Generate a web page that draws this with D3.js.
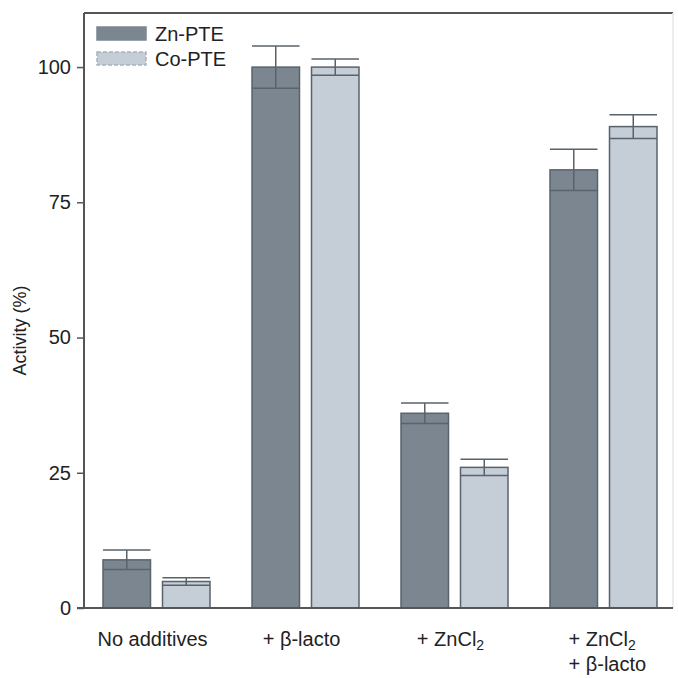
<!DOCTYPE html>
<html>
<head>
<meta charset="utf-8">
<script src="https://cdn.jsdelivr.net/npm/d3@7"></script>
<style>
  body { margin: 0; background: #fff; }
  text { font-family: "Liberation Sans", Arial, sans-serif; fill: #222; }
</style>
</head>
<body>
<div id="chart"></div>
<script>
const groups = ["No additives", "+ β-lacto", "+ ZnCl2", "+ ZnCl2 + β-lacto"];
const series = ["Zn-PTE", "Co-PTE"];
const znValues = [8.9, 100, 36, 81];
const znErrors = [1.8, 3.9, 1.9, 3.8];
const coValues = [4.9, 100, 26, 89];
const coErrors = [0.7, 1.5, 1.5, 2.2];
const yTicks = [0, 25, 50, 75, 100];

const fills = {"Zn-PTE": "#7b8690", "Co-PTE": "#c5cdd7"};
const edge = "#59636b";
const fs = 20;

const W = 678, H = 678;
const plot = {left: 84, right: 673, top: 13, bottom: 608};

const svg = d3.select("#chart").append("svg")
    .attr("width", W)
    .attr("height", H);

const data = groups.map((g, i) => ({
    group: g,
    bars: [
        {series: "Zn-PTE", value: znValues[i], err: znErrors[i]},
        {series: "Co-PTE", value: coValues[i], err: coErrors[i]}
    ]
}));

const y = d3.scaleLinear().domain([0, 110]).range([plot.bottom, plot.top]);
const x0 = d3.scaleBand().domain(groups).range([82, 678]);
const x1 = d3.scaleBand().domain(series).range([0, 107]).paddingInner(12 / 59.5).paddingOuter(0);
const groupStart = g => x0(g) + x0.bandwidth() / 2 - 53.5;

// frame
svg.append("line")
    .attr("x1", plot.left).attr("x2", plot.right)
    .attr("y1", plot.top).attr("y2", plot.top)
    .attr("stroke", "#555").attr("stroke-width", 2);
svg.append("line")
    .attr("x1", plot.right).attr("x2", plot.right)
    .attr("y1", plot.top).attr("y2", plot.bottom)
    .attr("stroke", "#e4e8ec").attr("stroke-width", 1.5);

// bars
const gs = svg.selectAll(".grp")
    .data(data)
    .enter().append("g")
    .attr("class", "grp")
    .attr("transform", d => "translate(" + groupStart(d.group) + ",0)");

const bar = gs.selectAll(".bar")
    .data(d => d.bars)
    .enter().append("g")
    .attr("class", "bar");

bar.append("rect")
    .attr("x", d => x1(d.series))
    .attr("y", d => y(d.value))
    .attr("width", x1.bandwidth())
    .attr("height", d => y(0) - y(d.value))
    .attr("fill", d => fills[d.series])
    .attr("stroke", edge)
    .attr("stroke-width", 1.5);

// error bars: line across bar at low end, stem, cap at high end
bar.append("line")
    .attr("x1", d => x1(d.series)).attr("x2", d => x1(d.series) + x1.bandwidth())
    .attr("y1", d => y(d.value - d.err)).attr("y2", d => y(d.value - d.err))
    .attr("stroke", edge).attr("stroke-width", 1.5);
bar.append("line")
    .attr("x1", d => x1(d.series) + x1.bandwidth() / 2).attr("x2", d => x1(d.series) + x1.bandwidth() / 2)
    .attr("y1", d => y(d.value - d.err)).attr("y2", d => y(d.value + d.err))
    .attr("stroke", edge).attr("stroke-width", 1.5);
bar.append("line")
    .attr("x1", d => x1(d.series)).attr("x2", d => x1(d.series) + x1.bandwidth())
    .attr("y1", d => y(d.value + d.err)).attr("y2", d => y(d.value + d.err))
    .attr("stroke", edge).attr("stroke-width", 1.5);

// y axis
const yAxis = svg.append("g")
    .attr("transform", "translate(" + plot.left + ",0)")
    .call(d3.axisLeft(y).tickValues(yTicks).tickSize(7).tickPadding(6));
yAxis.select(".domain").attr("d", "M0," + plot.top + "V" + plot.bottom)
    .attr("stroke", "#555").attr("stroke-width", 2);
yAxis.selectAll(".tick line").attr("stroke", "#555").attr("stroke-width", 1.5);
yAxis.selectAll(".tick text")
    .attr("font-size", fs)
    .attr("font-family", "Liberation Sans, Arial, sans-serif")
    .attr("fill", "#222");

// baseline
svg.append("line")
    .attr("x1", plot.left - 7).attr("x2", plot.right)
    .attr("y1", y(0)).attr("y2", y(0))
    .attr("stroke", "#555").attr("stroke-width", 2);

svg.append("text")
    .attr("transform", "translate(26," + ((plot.top + plot.bottom) / 2 + 20) + ") rotate(-90)")
    .attr("text-anchor", "middle")
    .attr("font-size", 18)
    .text("Activity (%)");

// x labels
function writeLabel(sel, s) {
    const m = s.split("Cl2");
    if (m.length === 1) { sel.append("tspan").text(s); return; }
    sel.append("tspan").text(m[0] + "Cl");
    sel.append("tspan").attr("dy", 4).attr("font-size", 14).text("2");
    sel.append("tspan").attr("dy", -4).text(m[1]);
}

groups.forEach(g => {
    const cx = x0(g) + x0.bandwidth() / 2;
    if (g.indexOf("Cl2 +") > 0) {
        ["+ ZnCl2", "+ β-lacto"].forEach((p, i) => {
            const line = svg.append("text")
                .attr("font-size", fs)
                .attr("x", cx - 35)
                .attr("y", 646 + i * 25);
            writeLabel(line, p);
        });
    } else {
        const t = svg.append("text")
            .attr("font-size", fs)
            .attr("x", cx - 4).attr("y", 646)
            .attr("text-anchor", "middle");
        writeLabel(t, g);
    }
});

// legend
const legend = svg.append("g").attr("transform", "translate(97,27)");
series.forEach((s, i) => {
    const row = legend.append("g").attr("transform", "translate(0," + (i * 25) + ")");
    row.append("rect")
        .attr("width", 49).attr("height", 13)
        .attr("fill", fills[s])
        .attr("stroke", i === 0 ? fills[s] : "#a9b3bd")
        .attr("stroke-width", 1.5)
        .attr("stroke-dasharray", i === 0 ? null : "4,2");
    row.append("text")
        .attr("x", 58).attr("y", 14)
        .attr("font-size", fs)
        .text(s);
});
</script>
</body>
</html>
